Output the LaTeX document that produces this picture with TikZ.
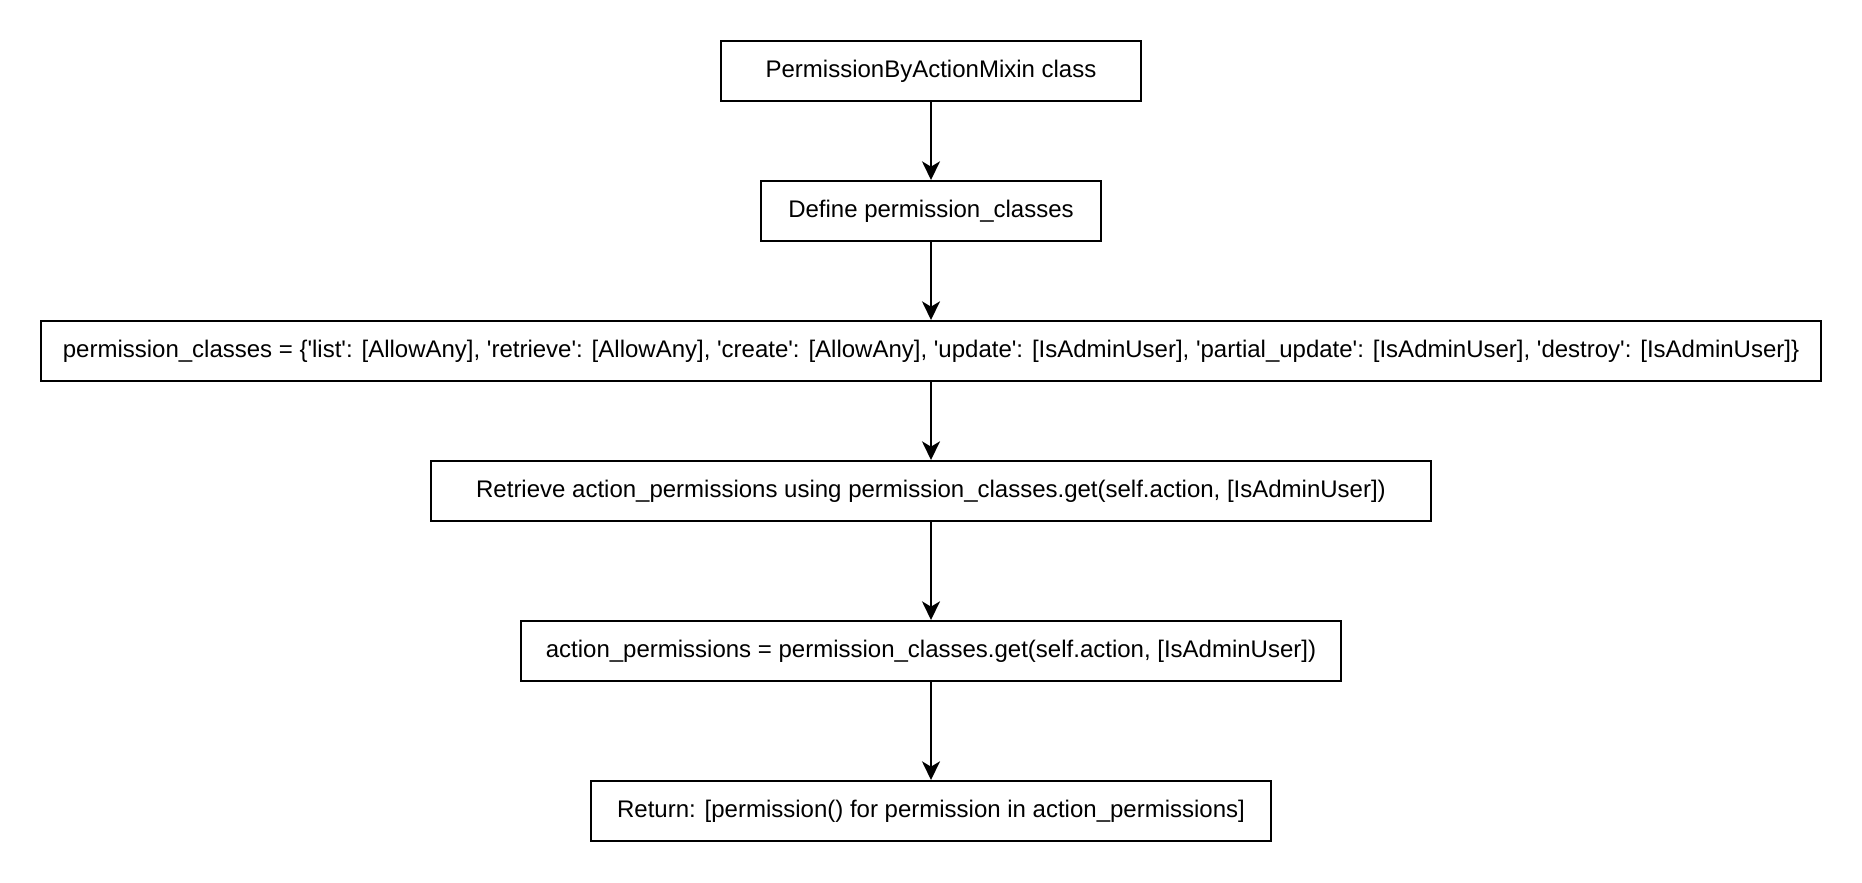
\documentclass[tikz,border=0pt]{standalone}
\usepackage{fontspec}
\setmainfont{Liberation Sans}
\usetikzlibrary{arrows.meta}
\newcommand{\q}{\textquotesingle}
\begin{document}
\begin{tikzpicture}[x=0.75pt,y=-0.75pt,
  box/.style={draw=black, line width=1.5pt, fill=white, minimum height=45pt, inner sep=0pt, font=\fontsize{18pt}{21pt}\selectfont},
  arr/.style={line width=1.5pt, -{Stealth[length=14pt,width=13.5pt,inset=4pt]}}]
\useasboundingbox (0,0) rectangle (1862,882);
\node[box, minimum width=315pt] (a) at (931,71) {PermissionByActionMixin class};
\node[box, minimum width=255pt] (b) at (931,211) {Define permission\_classes};
\node[box, minimum width=1335pt] (c) at (931,351) {permission\_classes = \{\q list\q: [AllowAny], \q retrieve\q: [AllowAny], \q create\q: [AllowAny], \q update\q: [IsAdminUser], \q partial\_update\q: [IsAdminUser], \q destroy\q: [IsAdminUser]\}};
\node[box, minimum width=750pt] (d) at (931,491) {Retrieve action\_permissions using permission\_classes.get(self.action, [IsAdminUser])};
\node[box, minimum width=615pt] (e) at (931,651) {action\_permissions = permission\_classes.get(self.action, [IsAdminUser])};
\node[box, minimum width=510pt] (f) at (931,811) {Return: [permission() for permission in action\_permissions]};
\draw[arr] (a) -- (b);
\draw[arr] (b) -- (c);
\draw[arr] (c) -- (d);
\draw[arr] (d) -- (e);
\draw[arr] (e) -- (f);
\end{tikzpicture}
\end{document}
